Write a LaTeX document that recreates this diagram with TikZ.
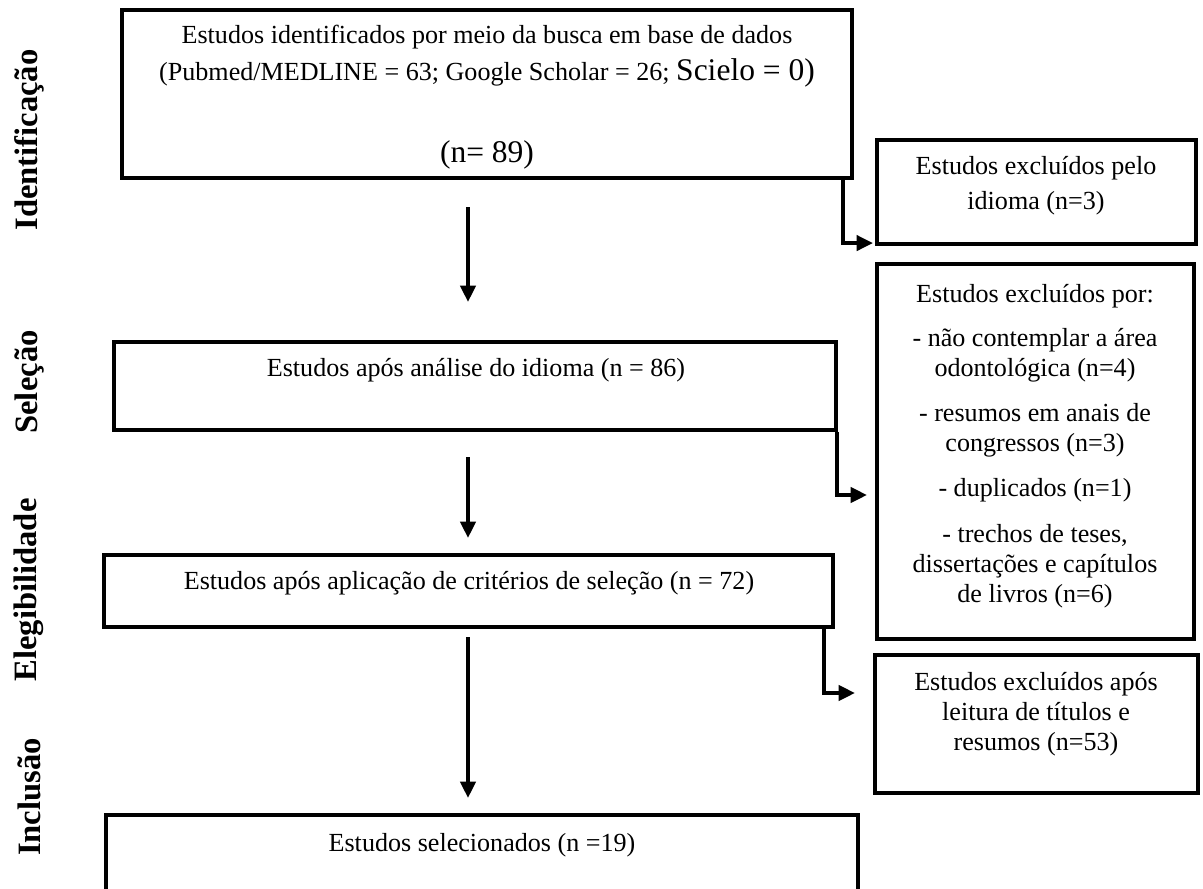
\documentclass[tikz,border=0pt]{standalone}
\usepackage{fontspec}
\setmainfont{Liberation Serif}
\usetikzlibrary{arrows.meta,calc,fit}

\tikzset{
  box/.style={draw, line width=1.9pt, inner sep=0pt},
  txt/.style={align=center, inner sep=0pt, font=\fontsize{12}{13.8}\selectfont},
  fase/.style={rotate=90, inner sep=0pt, font=\fontsize{15}{17}\selectfont\bfseries},
  seta/.style={line width=1.6pt, -{Triangle[width=7pt,length=7.5pt]}}
}

\begin{document}
\begin{tikzpicture}[x=0.46pt,y=-0.46pt]
\useasboundingbox (0,0) rectangle (1203,888);
\coordinate (eixo) at (468,0);
% fases
\node[fase] (fid) at (29,140) {Identificação};
\node[fase] (fsel) at (29,382) {Seleção};
\node[fase] (fel) at (29,590) {Elegibilidade};
\node[fase] (finc) at (29,797) {Inclusão};
% caixas principais
\node[box, fit={(122,10) (852,178)}] (ident) {};
\node[box, fit={(114,342) (836,430)}] (sel) {};
\node[box, fit={(104,555) (833,627)}] (eleg) {};
\node[box, fit={(106,815) (858,930)}] (incl) {};
% caixas de exclusao
\node[box, fit={(877,140) (1196,244)}] (exid) {};
\node[box, fit={(877,264) (1194,639)}] (expor) {};
\node[box, fit={(875,655) (1198,793)}] (exleit) {};
% textos
\node[txt] (t1) at (487,37) {Estudos identificados por meio da busca em base de dados};
\node[txt] (t2) at (487,73) {(Pubmed/MEDLINE = 63; Google Scholar = 26; {\fontsize{14.5}{16}\selectfont Scielo = 0)}};
\node[txt, font=\fontsize{14.5}{16}\selectfont] (t3) at (487,155) {(n= 89)};
\node[txt] (tsel) at (476,370) {Estudos após análise do idioma (n = 86)};
\node[txt] (tel) at (469,583) {Estudos após aplicação de critérios de seleção (n = 72)};
\node[txt] (tinc) at (482,845) {Estudos selecionados (n =19)};
\node[txt] (texid) at (1036,186) {Estudos excluídos pelo\\[2.3pt]idioma (n=3)};
\node[txt] (texpor) at (1035,446) {Estudos excluídos por:\\[6.5pt]
  - não contemplar a área\\odontológica (n=4)\\[7pt]
  - resumos em anais de\\congressos (n=3)\\[7pt]
  - duplicados (n=1)\\[7pt]
  - trechos de teses,\\dissertações e capítulos\\de livros (n=6)};
\node[txt] (texleit) at (1036,714) {Estudos excluídos após\\leitura de títulos e\\resumos (n=53)};
% setas
\draw[seta] ($(ident.south -| eixo)+(0,27)$) -- ($(sel.north -| eixo)+(0,-38)$);
\draw[seta] ($(sel.south -| eixo)+(0,25)$) -- ($(eleg.north -| eixo)+(0,-15)$);
\draw[seta] ($(eleg.south -| eixo)+(0,8)$) -- ($(incl.north -| eixo)+(0,-15)$);
\draw[seta] (ident.south east) ++(-11,0) |- ($(exid.south west)+(-2,-3)$);
\draw[seta] (sel.south east) ++(-1,0) |- ($(expor.west)+(-8,43.5)$);
\draw[seta] (eleg.south east) ++(-11,0) |- ($(exleit.west)+(-18,-31)$);
\end{tikzpicture}
\end{document}
